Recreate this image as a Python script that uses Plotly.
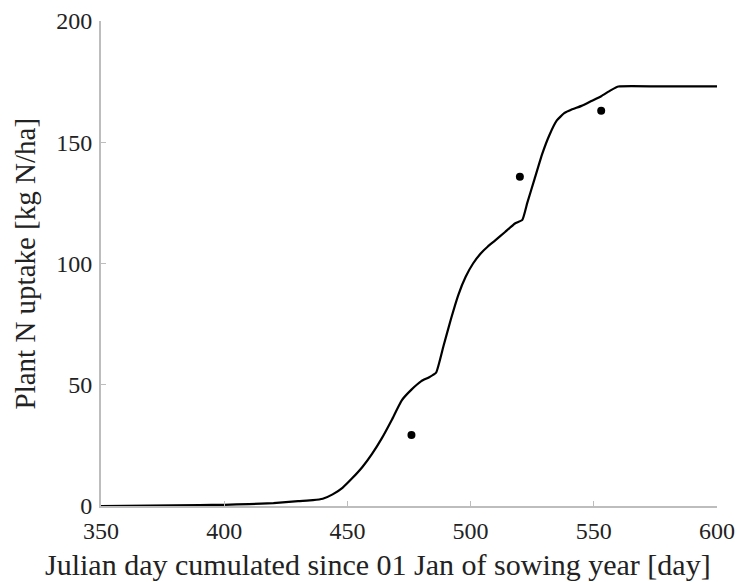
import plotly.graph_objects as go

# Simulated plant N uptake curve
sim_day = [350, 370, 390, 400, 410, 420, 430, 436, 440, 444, 448, 452, 456, 460, 464, 468,
           472, 476, 480, 483, 486, 489, 492, 495, 498, 501, 504, 507, 510, 514, 518, 521,
           523, 526, 529, 532, 535, 538, 541, 545, 549, 553, 557, 560, 580, 600]
sim_n = [0.0, 0.2, 0.4, 0.5, 0.8, 1.2, 2.0, 2.4, 3.0, 4.8, 7.5, 11.5, 16.0, 21.5, 28.0, 35.5,
         43.5, 48.0, 51.5, 53.0, 55.0, 66.0, 77.0, 87.0, 94.5, 100.0, 104.0, 107.0, 109.5, 113.0, 116.5, 118.0,
         125.0, 135.0, 145.0, 153.0, 159.0, 162.0, 163.5, 165.0, 167.0, 169.0, 171.5, 173.0, 173.0, 173.0]

# Observed values
obs_day = [476, 520, 553]
obs_n = [29.3, 135.8, 163.0]

x_title = "Julian day cumulated since 01 Jan of sowing year [day]"
y_title = "Plant N uptake [kg N/ha]"

fig = go.Figure()
fig.add_trace(go.Scatter(x=sim_day, y=sim_n, mode="lines",
                         line=dict(color="black", width=2.2, shape="spline", smoothing=0.4),
                         showlegend=False))
fig.add_trace(go.Scatter(x=obs_day, y=obs_n, mode="markers",
                         marker=dict(color="black", size=8),
                         showlegend=False))

font_family = "Liberation Serif"
fig.update_layout(
    width=740, height=582,
    margin=dict(l=101, r=23, t=21, b=76),
    paper_bgcolor="white", plot_bgcolor="white",
    font=dict(family=font_family, color="#222222", size=24),
    xaxis=dict(range=[350, 600], tickvals=[350, 400, 450, 500, 550, 600],
               showgrid=False, zeroline=False, showline=True, linecolor="#bdbdbd", linewidth=2,
               ticks="inside", ticklen=5, tickcolor="#bdbdbd", tickwidth=1, automargin=False,
               tickfont=dict(size=24, family=font_family), ticklabelstandoff=2),
    yaxis=dict(range=[0, 200], tickvals=[0, 50, 100, 150, 200],
               showgrid=False, zeroline=False, showline=True, linecolor="#bdbdbd", linewidth=2,
               ticks="inside", ticklen=5, tickcolor="#bdbdbd", tickwidth=1, automargin=False,
               tickfont=dict(size=24, family=font_family), ticklabelstandoff=2),
    annotations=[
        dict(text=x_title, xref="paper", yref="paper", x=0.4497, y=-0.1216,
             xanchor="center", yanchor="middle", showarrow=False,
             font=dict(size=30, family=font_family, color="#222222")),
        dict(text=y_title, xref="paper", yref="paper", x=-0.1234, y=0.5,
             xanchor="center", yanchor="middle", textangle=-90, showarrow=False,
             font=dict(size=29, family=font_family, color="#222222")),
    ],
)

fig.write_html("out.html")
